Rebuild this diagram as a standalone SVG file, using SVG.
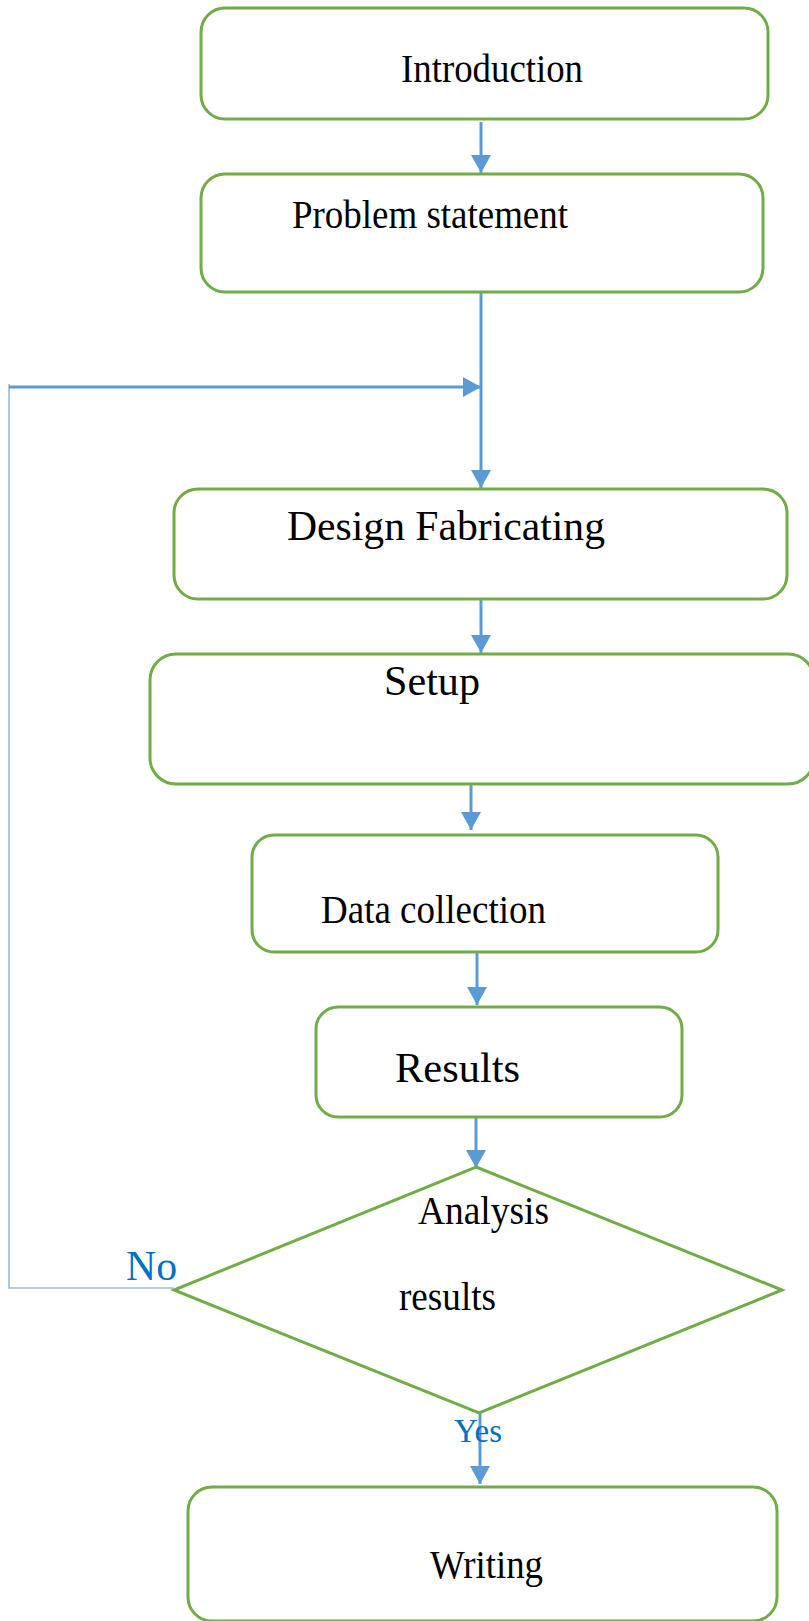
<svg xmlns="http://www.w3.org/2000/svg" width="809" height="1621" viewBox="0 0 809 1621">
  <style>
    .box { fill: #ffffff; stroke: #70AD47; stroke-width: 3; }
    .lbl { font-family: "Liberation Serif", "Times New Roman", serif; fill: #000000; }
    .flow { fill: none; stroke: #5B9BD5; stroke-width: 3; }
    .back { fill: none; stroke: #9DBBD3; stroke-width: 1.6; }
    .tag { font-family: "Liberation Serif", "Times New Roman", serif; fill: #0070C0; }
  </style>
  <defs>
    <marker id="arrow" markerUnits="userSpaceOnUse" markerWidth="18" markerHeight="20" viewBox="0 0 18 20" refX="18" refY="10" orient="auto">
      <path d="M0,0 L18,10 L0,20 z" fill="#5B9BD5"/>
    </marker>
  </defs>
  <rect width="809" height="1621" fill="#ffffff"/>

  <!-- connectors -->
  <g id="connectors">
    <line class="flow" x1="481" y1="122" x2="481" y2="173" marker-end="url(#arrow)"/>
    <line class="flow" x1="481" y1="292" x2="481" y2="488" marker-end="url(#arrow)"/>
    <polyline class="back" points="174,1288 9,1288 9,384"/>
    <line class="flow" x1="9" y1="387" x2="481" y2="387" marker-end="url(#arrow)"/>
    <line class="flow" x1="481" y1="599" x2="481" y2="653" marker-end="url(#arrow)"/>
    <line class="flow" x1="471" y1="777" x2="471" y2="830" marker-end="url(#arrow)"/>
    <line class="flow" x1="477" y1="950" x2="477" y2="1005" marker-end="url(#arrow)"/>
    <line class="flow" x1="476" y1="1116" x2="476" y2="1168" marker-end="url(#arrow)"/>
    <line class="flow" x1="480" y1="1410" x2="480" y2="1484" marker-end="url(#arrow)"/>
  </g>

  <g id="introduction">
    <rect class="box" x="201" y="8" width="567" height="111" rx="24"/>
    <text class="lbl" x="401" y="82" font-size="39" textLength="182" lengthAdjust="spacingAndGlyphs">Introduction</text>
  </g>

  <g id="problem-statement">
    <rect class="box" x="201" y="174" width="562" height="118" rx="24"/>
    <text class="lbl" x="292" y="228" font-size="39" textLength="276" lengthAdjust="spacingAndGlyphs">Problem statement</text>
  </g>

  <g id="design-fabricating">
    <rect class="box" x="174" y="489" width="613" height="110" rx="24"/>
    <text class="lbl" x="287" y="540" font-size="42" textLength="318" lengthAdjust="spacingAndGlyphs">Design Fabricating</text>
  </g>

  <g id="setup">
    <rect class="box" x="150" y="654" width="664" height="130" rx="26"/>
    <text class="lbl" x="384" y="695" font-size="42" textLength="96" lengthAdjust="spacingAndGlyphs">Setup</text>
  </g>

  <g id="data-collection">
    <rect class="box" x="252" y="835" width="466" height="117" rx="22"/>
    <text class="lbl" x="321" y="923" font-size="40" textLength="225" lengthAdjust="spacingAndGlyphs">Data collection</text>
  </g>

  <g id="results">
    <rect class="box" x="316" y="1007" width="366" height="110" rx="22"/>
    <text class="lbl" x="395" y="1082" font-size="43" textLength="125" lengthAdjust="spacingAndGlyphs">Results</text>
  </g>

  <g id="analysis-results">
    <polygon class="box" points="476,1167 782,1290 479,1413 174,1290"/>
    <text class="lbl" x="418" y="1224" font-size="39" textLength="131" lengthAdjust="spacingAndGlyphs">Analysis</text>
    <text class="lbl" x="399" y="1310" font-size="39" textLength="97" lengthAdjust="spacingAndGlyphs">results</text>
  </g>

  <g id="writing">
    <rect class="box" x="188" y="1487" width="589" height="134" rx="24"/>
    <text class="lbl" x="430" y="1578" font-size="39" textLength="113" lengthAdjust="spacingAndGlyphs">Writing</text>
  </g>

  <g id="branch-labels">
    <text class="tag" x="126" y="1280" font-size="43" textLength="51" lengthAdjust="spacingAndGlyphs">No</text>
    <text class="tag" x="454" y="1442" font-size="33" textLength="48" lengthAdjust="spacingAndGlyphs">Yes</text>
  </g>
</svg>
